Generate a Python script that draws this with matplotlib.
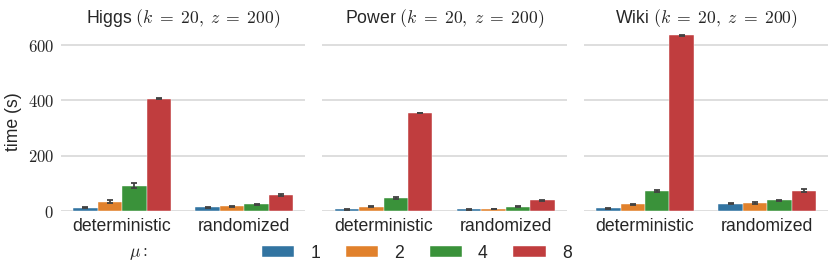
import numpy as np
import matplotlib
matplotlib.use("Agg")
import matplotlib.pyplot as plt

plt.rcParams['font.family'] = ['Liberation Sans', 'DejaVu Sans']
plt.rcParams['mathtext.fontset'] = 'cm'

# Data
datasets = ["Higgs", "Power", "Wiki"]
methods = ["deterministic", "randomized"]
mus = ["1", "2", "4", "8"]
colors = ["#3274a1", "#e1812c", "#3a923a", "#c03d3e"]

# time (s) per dataset: rows = method, cols = mu
higgs_time = [[12, 33, 91, 406], [13, 17, 25, 58]]
power_time = [[6, 16, 48, 354], [6, 8, 16, 39]]
wiki_time = [[10, 24, 73, 635], [27, 29, 39, 73]]
higgs_err = [[2, 5, 9, 1], [1, 1, 2, 2]]
power_err = [[1, 2, 3, 1], [1, 1, 1, 2]]
wiki_err = [[1, 2, 4, 1], [1, 2, 2, 6]]

times = [higgs_time, power_time, wiki_time]
errs = [higgs_err, power_err, wiki_err]

fig, axes = plt.subplots(1, 3, figsize=(8.3, 2.76), dpi=100, sharey=True)
fig.subplots_adjust(left=0.0735, right=0.998, bottom=0.2355, top=0.88, wspace=0.07)

width = 0.2
x = np.arange(len(methods))
for ax, name, t, e in zip(axes, datasets, times, errs):
    t = np.array(t)
    e = np.array(e)
    for j, mu in enumerate(mus):
        pos = x - 0.4 + width * (j + 0.5)
        ax.bar(pos, t[:, j], width, color=colors[j], label=mu, zorder=2,
               edgecolor="white", linewidth=0.3)
        ax.errorbar(pos, t[:, j], yerr=e[:, j], fmt="none", ecolor="#424242",
                    elinewidth=1.3, capsize=2.5, capthick=1.3, zorder=3)
    ax.set_xlim(-0.5, 1.5)
    ax.set_ylim(0, 643)
    ax.set_xticks(x)
    ax.set_xticklabels(methods, fontsize=12.7, color="#262626")
    ax.set_yticks([0, 200, 400, 600])
    ax.set_yticklabels([r"$0$", r"$200$", r"$400$", r"$600$"], fontsize=12, color="#262626")
    ax.grid(axis="y", color="#d5d5d5", linewidth=1.1, zorder=0)
    ax.set_axisbelow(True)
    for s in ax.spines.values():
        s.set_visible(False)
    ax.tick_params(length=0, pad=5)
    ax.set_title(name + r" $(k\;=\;20,\;z\;=\;200)$", fontsize=12.7, color="#262626", pad=7)

axes[0].set_ylabel("time (s)", fontsize=12.7, color="#262626")

handles, labels = axes[0].get_legend_handles_labels()
handles = [h for h in handles if hasattr(h, "patches")]
fig.legend(handles, mus, loc="center", bbox_to_anchor=(0.502, 0.083), ncol=4,
           frameon=False, fontsize=12.7, handlelength=1.85, handleheight=0.6,
           columnspacing=1.45, handletextpad=0.9, labelcolor="#262626")
fig.text(0.155, 0.083, r"$\mu:$", fontsize=12.7, ha="left", va="center", color="#262626")

fig.savefig("out.png", dpi=100)
